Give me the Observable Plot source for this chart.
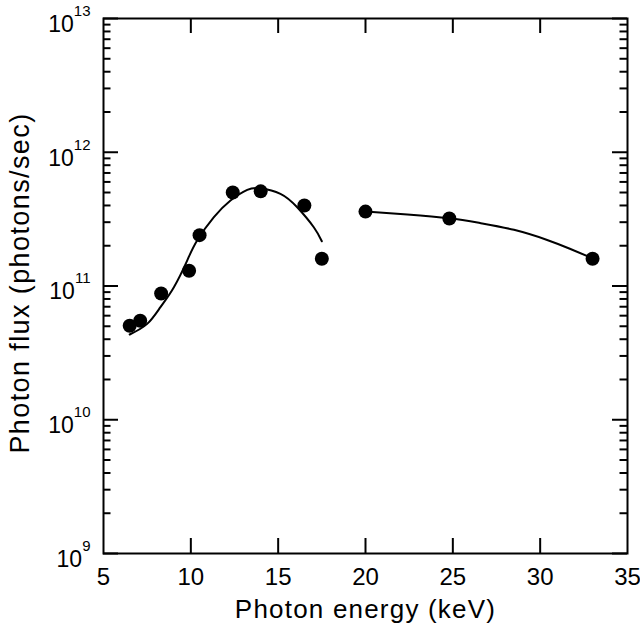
<!DOCTYPE html>
<html><head><meta charset="utf-8">
<script src="https://cdn.jsdelivr.net/npm/d3@7"></script>
<script src="https://cdn.jsdelivr.net/npm/@observablehq/plot@0.6"></script>
<style>body{margin:0;background:#fff}</style>
</head><body><div id="chart"></div>
<script>
// Measured points
const energy = [6.5, 7.1, 8.3, 9.9, 10.5, 12.4, 14.0, 16.5, 17.5, 20, 24.8, 33];
const flux = [5.05e10, 5.5e10, 8.8e10, 1.3e11, 2.4e11, 5.0e11, 5.1e11, 4.0e11, 1.6e11, 3.6e11, 3.2e11, 1.6e11];
// Fit curve 1 (low energy)
const fit1Energy = [6.5, 7.5, 8.26, 9.03, 9.79, 10.36, 11.32, 12.27, 13.23, 13.99, 15.13, 16.09, 17.04, 17.5];
const fit1Flux = [4.34e10, 5.21e10, 6.95e10, 9.8e10, 1.55e11, 2.19e11, 3.27e11, 4.36e11, 5.24e11, 5.38e11, 4.89e11, 3.88e11, 2.75e11, 2.16e11];
// Fit curve 2 (high energy)
const fit2Energy = [20, 22.4, 24.8, 26.6, 28.5, 30.4, 31.7, 33];
const fit2Flux = [3.61e11, 3.43e11, 3.21e11, 2.95e11, 2.63e11, 2.21e11, 1.90e11, 1.61e11];
// Axes
const xTicks = [5, 10, 15, 20, 25, 30, 35];
const xInnerTicks = [10, 15, 20, 25, 30];
const yTicks = [1e9, 1e10, 1e11, 1e12, 1e13];
const yMinor = [];
for (const p of [1e9, 1e10, 1e11, 1e12]) for (const k of [2,3,4,5,6,7,8,9]) yMinor.push(k * p);
const xTitle = "Photon energy (keV)";
const yTitle = "Photon flux (photons/sec)";

const W = 640, H = 629, mL = 103, mR = 13, mT = 18, mB = 76;
const pw = W - mL - mR, ph = H - mT - mB;
const major = 15, minor = 7.5;

const points = energy.map((e, i) => ({e, f: flux[i]}));
const fit1 = fit1Energy.map((e, i) => ({e, f: fit1Flux[i]}));
const fit2 = fit2Energy.map((e, i) => ({e, f: fit2Flux[i]}));

const svg = Plot.plot({
  width: W, height: H,
  marginLeft: mL, marginRight: mR, marginTop: mT, marginBottom: mB,
  style: {fontFamily: "'Liberation Sans', Arial, sans-serif", color: "black", background: "white", overflow: "visible"},
  x: {domain: [5, 35]},
  y: {type: "log", domain: [1e9, 1e13]},
  marks: [
    Plot.axisX({ticks: xTicks, tickSize: 0, tickPadding: 14, fontSize: 24, label: null, tickFormat: d => String(d)}),
    Plot.axisY({ticks: yTicks, tickSize: 0, tickPadding: 13, dy: 6, fontSize: 23, label: null,
      tickFormat: d => String(Math.round(Math.log10(d)))}),
    Plot.tickX(xInnerTicks, {x: d => d, insetTop: ph - major, strokeWidth: 2}),
    Plot.tickX(xInnerTicks, {x: d => d, insetBottom: ph - major, strokeWidth: 2}),
    Plot.tickY(yTicks, {y: d => d, insetRight: pw - major, strokeWidth: 2}),
    Plot.tickY(yTicks, {y: d => d, insetLeft: pw - major, strokeWidth: 2}),
    Plot.tickY(yMinor, {y: d => d, insetRight: pw - minor, strokeWidth: 2}),
    Plot.tickY(yMinor, {y: d => d, insetLeft: pw - minor, strokeWidth: 2}),
    Plot.line(fit1, {x: "e", y: "f", curve: "natural", stroke: "black", strokeWidth: 2}),
    Plot.line(fit2, {x: "e", y: "f", curve: "natural", stroke: "black", strokeWidth: 2}),
    Plot.dot(points, {x: "e", y: "f", r: 7, fill: "black", stroke: "none"}),
    Plot.frame({stroke: "black", strokeWidth: 2}),
    Plot.text([xTitle], {frameAnchor: "bottom", dy: 56, fontSize: 26, lineAnchor: "middle", textAnchor: "middle", text: d => d}),
    Plot.text([yTitle], {frameAnchor: "left", dx: -83, dy: -3, rotate: -90, fontSize: 27, lineAnchor: "middle", textAnchor: "middle", text: d => d})
  ]
});

const s = d3.select(svg);
s.selectAll('g[aria-label="y-axis tick label"] text').each(function() {
  const exp = this.textContent;
  const t = d3.select(this);
  t.text("");
  t.append("tspan").text("10");
  t.append("tspan").attr("font-size", 15).attr("dy", -16).text(exp);
});
s.selectAll("text").filter(function() { return this.textContent === xTitle; })
  .attr("letter-spacing", "1.2px");
s.selectAll("text").filter(function() { return this.textContent === yTitle; })
  .attr("letter-spacing", "1.4px");

document.getElementById("chart").appendChild(svg);
</script>
</body></html>
